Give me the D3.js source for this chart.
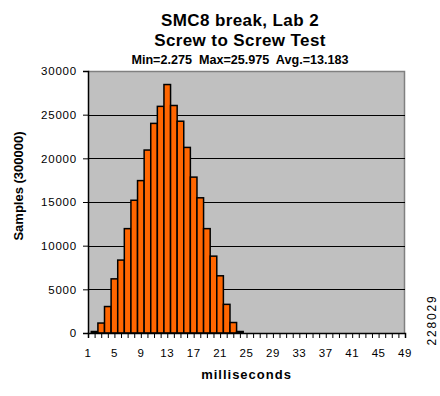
<!DOCTYPE html>
<html>
<head>
<meta charset="utf-8">
<script src="https://cdn.jsdelivr.net/npm/d3@7"></script>
<style>
  body { margin: 0; background: #fff; }
  svg { display: block; font-family: "Liberation Sans", Arial, sans-serif; }
</style>
</head>
<body>
<script>

// bin centres (milliseconds) and sample counts per bin
var bins = [2, 3, 4, 5, 6, 7, 8, 9, 10, 11, 12, 13, 14, 15, 16, 17, 18, 19, 20, 21, 22, 23, 24];
var samples = [170, 1140, 3030, 6200, 8350, 11950, 15200, 17450, 20950, 24000, 25950, 28450,
               26050, 24250, 21250, 17850, 15480, 11950, 8800, 6550, 3280, 1200, 170];
var xTickLabels = [1, 5, 9, 13, 17, 21, 25, 29, 33, 37, 41, 45, 49];
var yTicks = [0, 5000, 10000, 15000, 20000, 25000, 30000];

var titleLines = ["SMC8 break, Lab 2", "Screw to Screw Test"];
var subTitle = "Min=2.275  Max=25.975  Avg.=13.183";

var def_width = 440, def_height = 396;
var margin = {top: 71, right: 35, bottom: 63, left: 88},
    width = def_width - margin.left - margin.right,
    height = def_height - margin.top - margin.bottom;

var svg = d3.select("body").append("svg")
    .attr("width", def_width)
    .attr("height", def_height);

var x = d3.scaleLinear().domain([1, 49]).range([0, width]),
    y = d3.scaleLinear().domain([0, 30000]).range([height, 0]);

var g = svg.append("g")
    .attr("transform", "translate(" + margin.left + "," + margin.top + ")");

// plot area
g.append("rect")
    .attr("width", width)
    .attr("height", height)
    .attr("fill", "#c0c0c0");

// gray frame top + right
g.append("path")
    .attr("d", "M0,0.5H" + (width - 0.5) + "V" + height)
    .attr("fill", "none")
    .attr("stroke", "#808080")
    .attr("stroke-width", 1.5);

// gridlines
g.selectAll(".grid")
  .data(yTicks.filter(function(d) { return d > 0 && d < 30000; }))
  .enter().append("line")
    .attr("class", "grid")
    .attr("x1", 0).attr("x2", width)
    .attr("y1", function(d) { return Math.round(y(d)) + 0.5; })
    .attr("y2", function(d) { return Math.round(y(d)) + 0.5; })
    .attr("stroke", "#000")
    .attr("stroke-width", 1);

// bars
g.selectAll(".bar")
  .data(bins)
  .enter().append("rect")
    .attr("class", "bar")
    .attr("x", function(d) { return x(d - 0.5); })
    .attr("y", function(d, i) { return y(samples[i]); })
    .attr("width", x(2) - x(1))
    .attr("height", function(d, i) { return height - y(samples[i]); })
    .attr("fill", "#ff6600")
    .attr("stroke", "#000")
    .attr("stroke-width", 1.5);

// x axis
var xAxis = g.append("g")
    .attr("class", "axis axis--x")
    .attr("transform", "translate(0," + height + ")")
    .call(d3.axisBottom(x).tickValues(d3.range(1, 50, 1)).tickSize(5).tickFormat(""));
xAxis.select(".domain").attr("stroke-width", 1.5);

g.selectAll(".xlab")
  .data(xTickLabels)
  .enter().append("text")
    .attr("class", "xlab")
    .attr("x", function(d) { return x(d); })
    .attr("y", height + 24)
    .attr("text-anchor", "middle")
    .style("font-size", "11.5px")
    .style("letter-spacing", "0.5px")
    .text(function(d) { return d; });

// y axis
var yAxis = g.append("g")
    .attr("class", "axis axis--y")
    .call(d3.axisLeft(y).tickValues(yTicks).tickSize(5).tickPadding(6).tickFormat(d3.format("d")));
yAxis.select(".domain").attr("stroke-width", 1.5);
yAxis.selectAll("text")
    .style("font-size", "11.5px")
    .style("letter-spacing", "0.8px")
    .attr("fill", "#000")
    .attr("font-family", null);

// titles
svg.selectAll(".titulo")
  .data(titleLines)
  .enter().append("text")
    .attr("class", "titulo")
    .attr("x", 240)
    .attr("y", function(d, i) { return 26 + i * 20; })
    .attr("text-anchor", "middle")
    .style("font-size", "17px")
    .style("font-weight", "bold")
    .style("letter-spacing", "0.4px")
    .text(function(d) { return d; });

svg.append("text")
    .attr("x", 240)
    .attr("y", 64)
    .attr("text-anchor", "middle")
    .style("font-size", "12.6px")
    .style("font-weight", "bold")
    .style("white-space", "pre")
    .attr("xml:space", "preserve")
    .text(subTitle);

svg.append("text")
    .attr("transform", "translate(23,186) rotate(-90)")
    .attr("text-anchor", "middle")
    .style("font-size", "13px")
    .style("font-weight", "bold")
    .text("Samples (300000)");

svg.append("text")
    .attr("x", margin.left + width / 2)
    .attr("y", 379)
    .attr("text-anchor", "middle")
    .style("font-size", "13px")
    .style("font-weight", "bold")
    .style("letter-spacing", "1px")
    .text("milliseconds");

svg.append("text")
    .attr("transform", "translate(436,320) rotate(-90)")
    .attr("text-anchor", "middle")
    .style("font-size", "12px")
    .style("letter-spacing", "1.8px")
    .text("228029");

</script>
</body>
</html>
